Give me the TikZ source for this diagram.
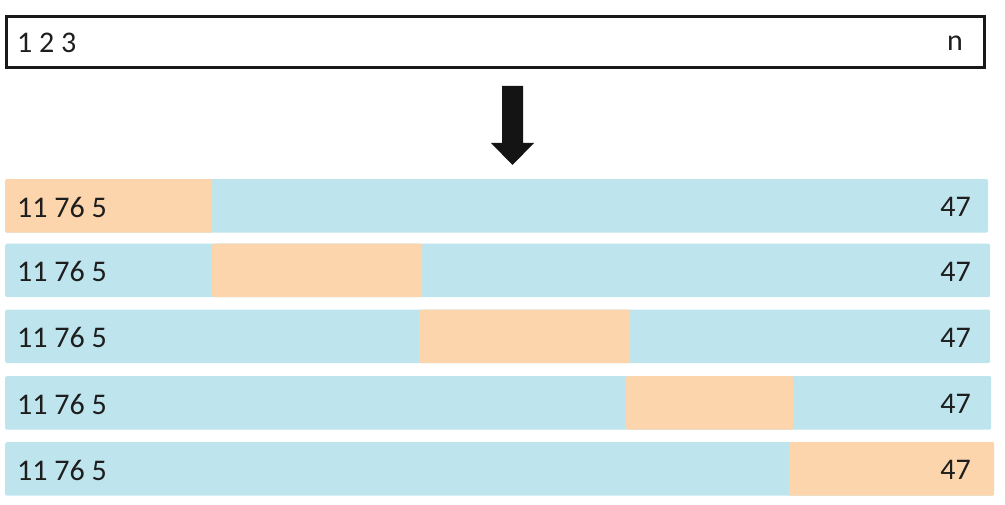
\documentclass[tikz,border=0pt]{standalone}
\usepackage{fontspec}
\setmainfont{Carlito}
\definecolor{barblue}{RGB}{190,228,238}
\definecolor{barorange}{RGB}{253,213,173}
\definecolor{txt}{RGB}{30,30,30}
\begin{document}
\begin{tikzpicture}[x=1pt,y=-1pt,
  seg/.style={inner sep=0pt, rounded corners=1.5pt, anchor=north west},
  bluebar/.style={seg, fill=barblue},
  orangebar/.style={seg, fill=barorange},
  lbl/.style={inner sep=0pt, text=txt, font=\fontsize{30}{36}\selectfont},
  topbox/.style={draw=black!90, line width=3pt, inner sep=0pt, anchor=north west, fill=white}]
\useasboundingbox (0,0) rectangle (1005,505);
% top box
\node[topbox, minimum width=978pt, minimum height=51pt] (top) at (5,15) {};
\node[lbl, anchor=west] (t1) at (17,43) {1 2 3};
\node[lbl, anchor=east] (tn) at (963,43) {n};
% arrow
\fill[black!92] (502,86) -- (523,86) -- (523,143) -- (534,143) -- (512.5,165) -- (491,143) -- (502,143) -- cycle;
% bars
\foreach \i/\y/\r/\oa/\ob in {1/179/988/5/212, 2/243.5/990/212/422, 3/309.5/990/419/630, 4/376/991/626/793, 5/442/994/789/994}{
  \node[bluebar, minimum width={\r-5}, minimum height=53.5pt] (bar\i) at (5,\y) {};
  \node[orangebar, minimum width={\ob-\oa}, minimum height=53.5pt] (win\i) at (\oa,\y) {};
  \node[lbl, anchor=west] (l\i) at (17,\y+28) {11 76 5};
  \node[lbl, anchor=east] (r\i) at (971,\y+28) {47};
}
\end{tikzpicture}
\end{document}
